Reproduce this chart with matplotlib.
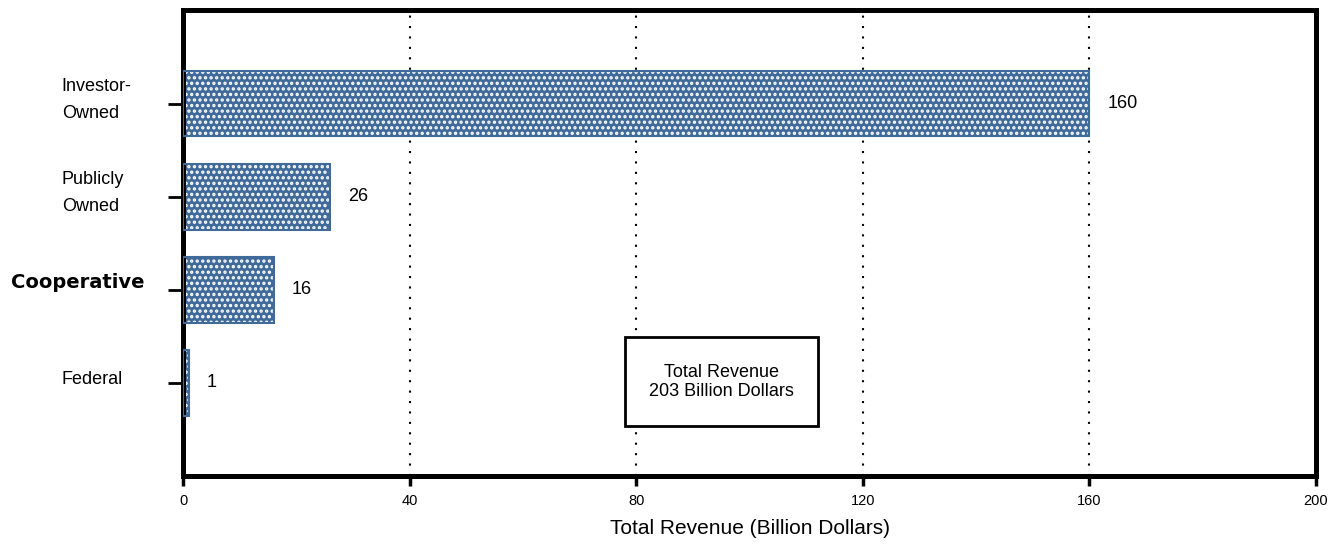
import matplotlib
matplotlib.use("Agg")
import matplotlib.pyplot as plt
from matplotlib.patches import Rectangle

categories = ["Investor-\nOwned", "Publicly\nOwned", "Cooperative", "Federal"]
values = [160, 26, 16, 1]
xticks = [0, 40, 80, 120, 160, 200]
box_text = "Total Revenue\n203 Billion Dollars"
xlabel = "Total Revenue (Billion Dollars)"

bar_color = "#3F6A99"
plt.rcParams["hatch.linewidth"] = 1.6

fig = plt.figure(figsize=(13.34, 5.44), dpi=100)
ax = fig.add_axes([183/1334, 1-476/544, (1316-183)/1334, (476-10)/544])

ypos = list(range(len(categories)))
ax.barh(ypos, values, height=0.70, color=bar_color, edgecolor="white",
        hatch="...", linewidth=0, zorder=2)
ax.barh(ypos, values, height=0.70, color="none", edgecolor=bar_color,
        linewidth=1.5, zorder=3)

ax.set_xlim(0, 200)
ax.set_ylim(4.0, -1.01)
ax.set_xticks(xticks)
ax.set_xticklabels([str(t) for t in xticks], fontsize=10.5, family="Liberation Sans")
ax.set_yticks(ypos)
ax.set_yticklabels([])
ax.tick_params(axis="y", direction="out", length=11, width=2)
ax.tick_params(axis="x", direction="out", length=7, width=2.5, pad=6)

for s in ax.spines.values():
    s.set_linewidth(3.6)

for t in xticks[1:-1]:
    ax.axvline(t, color="black", linestyle=(0, (1, 4)), linewidth=1.5, zorder=1)

for y, v in zip(ypos, values):
    ax.annotate(str(v), (v, y), xytext=(13, 0), textcoords="offset points",
                va="center", ha="left", fontsize=13, family="Liberation Sans")

ytr = ax.get_yaxis_transform()
for y, c in zip(ypos, categories):
    if c == "Cooperative":
        ax.text(-0.152, y - 0.08, c, transform=ytr, ha="left", va="center",
                fontsize=14, fontweight="bold", family="DejaVu Sans",
                clip_on=False)
    else:
        ax.text(-0.107, y - 0.04, c, transform=ytr, ha="left", va="center",
                fontsize=13, family="Liberation Sans", linespacing=1.75,
                clip_on=False)

ax.add_patch(Rectangle((78.0, 2.51), 34.1, 0.95, facecolor="white",
                       edgecolor="black", linewidth=2, zorder=4))
ax.text(95.05, 2.985, box_text, ha="center", va="center", fontsize=13,
        family="Liberation Sans", zorder=5, linespacing=1.15)

ax.set_xlabel(xlabel, fontsize=15, family="Liberation Sans", labelpad=8)

fig.savefig("out.png", dpi=100)
